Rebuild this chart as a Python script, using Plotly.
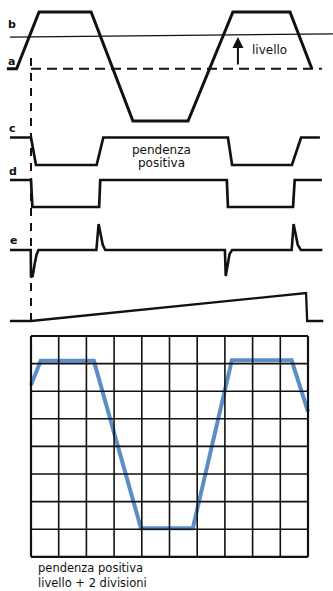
import plotly.graph_objects as go

W, H = 333, 591

# ---------------- data (time in scope divisions) ----------------
# trace a/b : input waveform (normalised amplitude 0..1)
wave_t = [-0.87, -0.52, 0.29, 2.17, 3.68, 5.67, 7.29, 9.35, 10.14]
wave_v = [0.48, 0.48, 1.0, 1.0, 0.0, 0.0, 1.0, 1.0, 0.48]
level_a = 0.48
level_a_t = [0.0, 10.5]
level_b_t = [-0.76, 10.9]
level_b_v = [0.77, 0.80]
arrow_t = 7.47
arrow_from, arrow_to = 0.505, 0.77

# trace c : comparator output
c_t = [-0.76, 0.0, 0.18, 2.37, 2.61, 7.11, 7.26, 9.42, 9.75, 10.43]
c_v = [1, 1, 0, 0, 1, 1, 0, 0, 1, 1]

# trace d : squared signal
d_t = [-0.76, 0.0, 0.05, 2.46, 2.5, 7.07, 7.11, 9.46, 9.52, 10.5]
d_v = [1, 1, 0, 0, 1, 1, 0, 0, 1, 1]

# trace e : differentiated pulses
e_t = [-0.76, -0.01, 0.0, 0.06, 0.13, 0.2, 0.27, 2.36, 2.44, 2.51, 2.59, 2.68,
       7.0, 7.03, 7.1, 7.17, 7.26, 9.41, 9.48, 9.55, 9.63, 9.74, 10.52]
e_v = [0, 0, -1.05, -1.0, -0.55, -0.18, 0, 0, 1.0, 0.6, 0.2, 0,
       0, -1.0, -0.5, -0.15, 0, 0, 1.0, 0.6, 0.2, 0, 0]

# sweep ramp
ramp_t = [-0.76, 0.0, 9.93, 9.97, 10.55]
ramp_v = [0, 0, 1, 0, 0]

# oscilloscope screen (divisions)
scope_t = [0.0, 0.35, 2.27, 3.97, 5.84, 7.25, 9.41, 10.0]
scope_v = [6.22, 7.1, 7.1, 1.03, 1.03, 7.12, 7.12, 5.26]
n_cols, n_rows = 10, 8

labels = ["a", "b", "c", "d", "e"]

# ---------------- layout helpers ----------------
GX0, GDIV = 31.0, 27.7   # pixel of screen left edge, px per division


def yrange(v_lo, py_lo, v_hi, py_hi):
    s = (v_hi - v_lo) / (py_lo - py_hi)
    return [v_lo - (H - py_lo) * s, v_lo + py_lo * s]


def topaper(v, rng):
    return (v - rng[0]) / (rng[1] - rng[0])


xr = [-GX0 / GDIV, (W - GX0) / GDIV]
r_scope = yrange(0, 556.8, 8, 336.0)
r_a = yrange(0, 121, 1, 12)
r_c = yrange(0, 165, 1, 137.5)
r_d = yrange(0, 207, 1, 180)
r_e = yrange(0, 250, 1, 224)
r_r = yrange(0, 321, 1, 293)

K = "#111111"
BLUE = "#5b8ec6"

fig = go.Figure()
fig.add_trace(go.Scatter(x=wave_t, y=wave_v, yaxis="y2", mode="lines",
                         line=dict(color=K, width=3)))
fig.add_trace(go.Scatter(x=level_b_t, y=level_b_v, yaxis="y2", mode="lines",
                         line=dict(color=K, width=1.3)))
fig.add_trace(go.Scatter(x=level_a_t, y=[level_a, level_a], yaxis="y2", mode="lines",
                         line=dict(color=K, width=2, dash="10px,6px")))
fig.add_trace(go.Scatter(x=c_t, y=c_v, yaxis="y3", mode="lines",
                         line=dict(color=K, width=2.7)))
fig.add_trace(go.Scatter(x=d_t, y=d_v, yaxis="y4", mode="lines",
                         line=dict(color=K, width=2.7)))
fig.add_trace(go.Scatter(x=e_t, y=e_v, yaxis="y5", mode="lines",
                         line=dict(color=K, width=2.6)))
fig.add_trace(go.Scatter(x=ramp_t, y=ramp_v, yaxis="y6", mode="lines",
                         line=dict(color=K, width=2.3)))

shapes = []
# vertical dashed trigger line
shapes.append(dict(type="line", xref="x", yref="paper", x0=0, x1=0,
                   y0=topaper(0, r_r), y1=1 - 56 / H,
                   line=dict(color=K, width=2, dash="8px,7px")))
# screen grid
for i in range(n_cols + 1):
    w = 2.2 if i in (0, n_cols) else 1.6
    shapes.append(dict(type="line", xref="x", yref="y", x0=i, x1=i, y0=0, y1=n_rows,
                       line=dict(color=K, width=w)))
for j in range(n_rows + 1):
    w = 2.2 if j in (0, n_rows) else 1.6
    shapes.append(dict(type="line", xref="x", yref="y", x0=0, x1=n_cols, y0=j, y1=j,
                       line=dict(color=K, width=w)))

fig.add_trace(go.Scatter(x=scope_t, y=scope_v, yaxis="y", mode="lines",
                         line=dict(color=BLUE, width=4)))

FONT = "DejaVu Sans"
ann = []
lab_pos = {"b": (11.5, 24), "a": (11, 61), "c": (12.5, 128), "d": (13, 171), "e": (13.5, 240)}
for lab in labels:
    px, py = lab_pos[lab]
    ann.append(dict(text=lab, x=px / W, y=1 - py / H, xref="paper", yref="paper",
                    showarrow=False, xanchor="center", yanchor="middle",
                    font=dict(family=FONT, size=11, color=K, weight="bold")))
ann.append(dict(text="", x=arrow_t, y=arrow_to, ax=arrow_t, ay=arrow_from,
                xref="x", yref="y2", axref="x", ayref="y2", showarrow=True,
                arrowhead=2, arrowsize=1.1, arrowwidth=2, arrowcolor=K, standoff=0))
ann.append(dict(text="livello", x=250 / W, y=1 - 50 / H, xref="paper", yref="paper",
                showarrow=False, xanchor="left", yanchor="middle",
                font=dict(family=FONT, size=12, color=K)))
ann.append(dict(text="pendenza", x=161 / W, y=1 - 150 / H, xref="paper", yref="paper",
                showarrow=False, xanchor="center", yanchor="middle",
                font=dict(family=FONT, size=12, color=K)))
ann.append(dict(text="positiva", x=161.5 / W, y=1 - 163.3 / H, xref="paper", yref="paper",
                showarrow=False, xanchor="center", yanchor="middle",
                font=dict(family=FONT, size=12, color=K)))
ann.append(dict(text="pendenza positiva<br>livello + 2 divisioni", x=36 / W, y=1 - 575 / H,
                xref="paper", yref="paper", align="left",
                showarrow=False, xanchor="left", yanchor="middle",
                font=dict(family=FONT, size=11.5, color=K)))

hidden = dict(visible=False, fixedrange=True)
fig.update_layout(
    width=W, height=H, margin=dict(l=0, r=0, t=0, b=0),
    paper_bgcolor="white", plot_bgcolor="white", showlegend=False,
    xaxis=dict(range=xr, **hidden),
    yaxis=dict(range=r_scope, **hidden),
    yaxis2=dict(range=r_a, overlaying="y", **hidden),
    yaxis3=dict(range=r_c, overlaying="y", **hidden),
    yaxis4=dict(range=r_d, overlaying="y", **hidden),
    yaxis5=dict(range=r_e, overlaying="y", **hidden),
    yaxis6=dict(range=r_r, overlaying="y", **hidden),
    shapes=shapes, annotations=ann,
)
fig.write_html("out.html", config={"displayModeBar": False},
               post_script="document.body.style.margin='0';document.body.style.overflow='hidden';")
